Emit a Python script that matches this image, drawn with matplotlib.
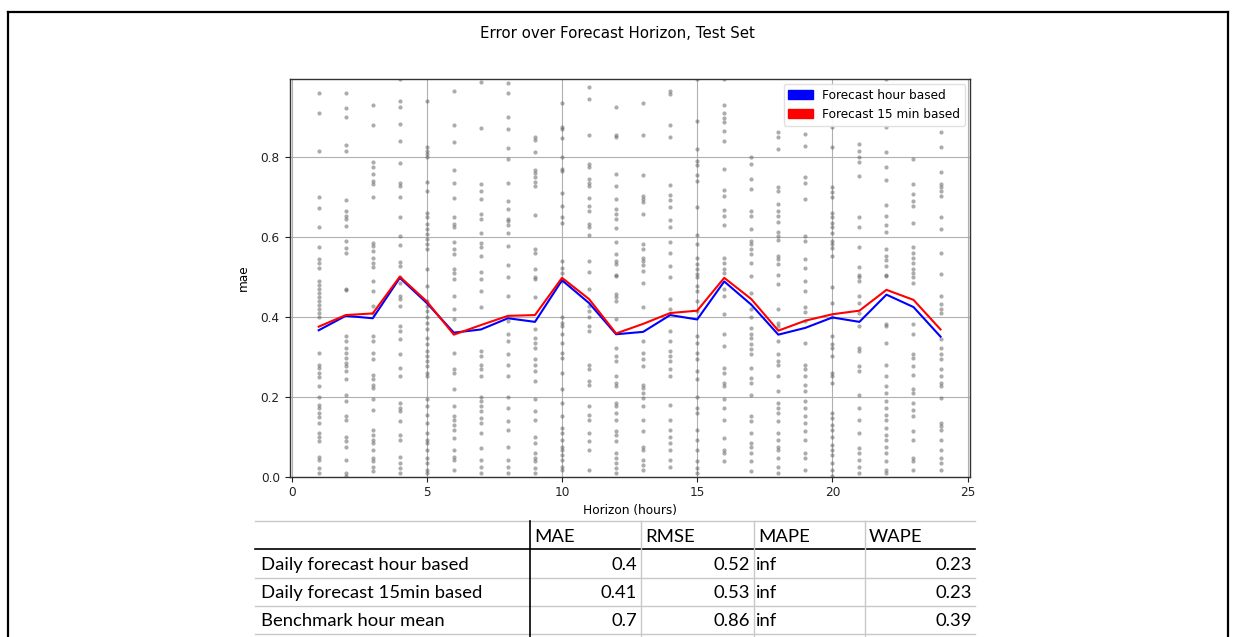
import matplotlib
matplotlib.use("Agg")
import matplotlib.pyplot as plt
from matplotlib.patches import Patch
from matplotlib.lines import Line2D

# ---------------- data ----------------
hours = list(range(1, 25))
mae_hour_based = [0.366, 0.402, 0.396, 0.497, 0.434, 0.360, 0.368, 0.396, 0.387, 0.491,
                  0.434, 0.356, 0.362, 0.404, 0.393, 0.488, 0.430, 0.355, 0.372, 0.398,
                  0.387, 0.455, 0.424, 0.350]
mae_15min_based = [0.375, 0.404, 0.408, 0.500, 0.438, 0.355, 0.379, 0.402, 0.404, 0.497,
                   0.444, 0.358, 0.382, 0.409, 0.415, 0.497, 0.444, 0.365, 0.390, 0.406,
                   0.415, 0.467, 0.442, 0.368]

# individual test-set errors per horizon hour
pts_h01 = [0.96, 0.91, 0.815, 0.698, 0.671, 0.623, 0.575, 0.545, 0.535, 0.522,
           0.49, 0.48, 0.47, 0.46, 0.45, 0.44, 0.43, 0.42, 0.41, 0.40,
           0.31, 0.28, 0.272, 0.26, 0.25, 0.226, 0.20, 0.18, 0.172, 0.159, 0.15,
           0.134, 0.109, 0.10, 0.088, 0.05, 0.042, 0.021, 0.008]
pts_h02 = [0.96, 0.922, 0.898, 0.83, 0.815, 0.692, 0.663, 0.652, 0.644, 0.627, 0.588,
           0.572, 0.558, 0.466, 0.468, 0.352, 0.34, 0.322, 0.31, 0.297, 0.285, 0.276,
           0.264, 0.243, 0.205, 0.188, 0.151, 0.142, 0.10, 0.088, 0.075, 0.042,
           0.008, 0.002]
pts_h03 = [0.929, 0.879, 0.787, 0.773, 0.756, 0.74, 0.731, 0.70, 0.585, 0.577, 0.564,
           0.547, 0.535, 0.524, 0.49, 0.464, 0.427, 0.41, 0.352, 0.34, 0.31, 0.293,
           0.255, 0.243, 0.23, 0.222, 0.193, 0.167, 0.117, 0.105, 0.092, 0.084,
           0.067, 0.046, 0.038, 0.025, 0.013]
pts_h04 = [0.993, 0.938, 0.925, 0.882, 0.84, 0.784, 0.735, 0.727, 0.698, 0.648, 0.602,
           0.579, 0.537, 0.527, 0.498, 0.485, 0.452, 0.443, 0.427, 0.377, 0.364,
           0.343, 0.306, 0.272, 0.251, 0.184, 0.172, 0.163, 0.138, 0.105, 0.092,
           0.05, 0.034, 0.021, 0.008]
pts_h05 = [0.94, 0.823, 0.815, 0.806, 0.798, 0.737, 0.715, 0.66, 0.648, 0.631, 0.618,
           0.606, 0.593, 0.581, 0.57, 0.52, 0.477, 0.439, 0.427, 0.414, 0.40, 0.385,
           0.368, 0.347, 0.331, 0.314, 0.301, 0.289, 0.276, 0.26, 0.251, 0.193,
           0.176, 0.155, 0.134, 0.109, 0.092, 0.084, 0.067, 0.046, 0.034, 0.017, 0.008]
pts_h06 = [0.965, 0.879, 0.837, 0.767, 0.733, 0.696, 0.648, 0.631, 0.623, 0.587, 0.568,
           0.556, 0.518, 0.51, 0.494, 0.452, 0.418, 0.393, 0.31, 0.268, 0.26, 0.218,
           0.176, 0.151, 0.142, 0.13, 0.117, 0.097, 0.067, 0.05, 0.042, 0.017]
pts_h07 = [0.986, 0.871, 0.731, 0.715, 0.694, 0.656, 0.644, 0.61, 0.585, 0.575, 0.552,
           0.512, 0.494, 0.464, 0.423, 0.314, 0.301, 0.28, 0.268, 0.251, 0.20, 0.188,
           0.176, 0.163, 0.147, 0.134, 0.109, 0.071, 0.042, 0.025, 0.008]
pts_h08 = [0.985, 0.96, 0.898, 0.868, 0.822, 0.794, 0.733, 0.69, 0.669, 0.645, 0.638,
           0.629, 0.608, 0.577, 0.529, 0.498, 0.452, 0.39, 0.356, 0.34, 0.306, 0.28,
           0.251, 0.20, 0.172, 0.138, 0.117, 0.075, 0.042, 0.025, 0.008]
pts_h09 = [0.848, 0.842, 0.812, 0.766, 0.758, 0.748, 0.737, 0.727, 0.654, 0.568, 0.56,
           0.52, 0.50, 0.494, 0.448, 0.368, 0.347, 0.334, 0.322, 0.293, 0.28, 0.264,
           0.239, 0.193, 0.163, 0.142, 0.10, 0.084, 0.059, 0.046, 0.038, 0.021, 0.008]
pts_h10 = [0.935, 0.874, 0.868, 0.847, 0.798, 0.769, 0.765, 0.709, 0.677, 0.648, 0.635,
           0.539, 0.522, 0.51, 0.49, 0.40, 0.385, 0.377, 0.356, 0.334, 0.31, 0.297,
           0.26, 0.218, 0.184, 0.151, 0.122, 0.109, 0.092, 0.075, 0.067, 0.055,
           0.042, 0.025, 0.017]
pts_h11 = [0.974, 0.943, 0.855, 0.782, 0.773, 0.744, 0.735, 0.727, 0.696, 0.677, 0.664,
           0.631, 0.623, 0.603, 0.54, 0.511, 0.468, 0.427, 0.414, 0.40, 0.377, 0.364,
           0.28, 0.268, 0.239, 0.23, 0.176, 0.155, 0.142, 0.109, 0.088, 0.067, 0.017]
pts_h12 = [0.925, 0.855, 0.848, 0.756, 0.727, 0.694, 0.669, 0.656, 0.645, 0.621, 0.587,
           0.556, 0.539, 0.531, 0.503, 0.502, 0.456, 0.448, 0.439, 0.393, 0.322,
           0.301, 0.289, 0.251, 0.234, 0.226, 0.184, 0.176, 0.159, 0.142, 0.113,
           0.105, 0.088, 0.059, 0.046, 0.034, 0.021, 0.008]
pts_h13 = [0.935, 0.855, 0.754, 0.702, 0.695, 0.687, 0.656, 0.581, 0.568, 0.547, 0.539,
           0.528, 0.514, 0.485, 0.423, 0.34, 0.31, 0.293, 0.276, 0.23, 0.222, 0.209,
           0.197, 0.176, 0.142, 0.113, 0.075, 0.067, 0.042, 0.03, 0.017]
pts_h14 = [0.965, 0.957, 0.879, 0.85, 0.729, 0.705, 0.692, 0.675, 0.642, 0.625, 0.587,
           0.558, 0.527, 0.498, 0.443, 0.418, 0.364, 0.34, 0.314, 0.301, 0.289, 0.268,
           0.251, 0.18, 0.142, 0.117, 0.10, 0.084, 0.067, 0.042, 0.025]
pts_h15 = [0.993, 0.888, 0.819, 0.79, 0.779, 0.754, 0.739, 0.673, 0.604, 0.581, 0.547,
           0.531, 0.518, 0.506, 0.498, 0.477, 0.464, 0.439, 0.414, 0.352, 0.334, 0.31,
           0.293, 0.264, 0.243, 0.20, 0.172, 0.159, 0.117, 0.092, 0.067, 0.038,
           0.021, 0.008]
pts_h16 = [0.995, 0.928, 0.909, 0.896, 0.886, 0.865, 0.84, 0.769, 0.717, 0.702, 0.667,
           0.652, 0.629, 0.547, 0.535, 0.52, 0.508, 0.468, 0.452, 0.406, 0.356, 0.327,
           0.272, 0.26, 0.234, 0.226, 0.193, 0.172, 0.142, 0.097, 0.067, 0.059, 0.038]
pts_h17 = [0.798, 0.782, 0.744, 0.719, 0.664, 0.652, 0.618, 0.59, 0.581, 0.568, 0.556,
           0.535, 0.502, 0.46, 0.418, 0.398, 0.372, 0.356, 0.347, 0.331, 0.318, 0.306,
           0.272, 0.247, 0.234, 0.205, 0.151, 0.138, 0.109, 0.084, 0.075, 0.059,
           0.038, 0.013]
pts_h18 = [0.861, 0.848, 0.819, 0.723, 0.715, 0.681, 0.664, 0.652, 0.637, 0.612, 0.602,
           0.591, 0.552, 0.545, 0.531, 0.503, 0.481, 0.418, 0.385, 0.377, 0.34, 0.306,
           0.289, 0.28, 0.251, 0.214, 0.184, 0.172, 0.159, 0.138, 0.109, 0.092,
           0.075, 0.067, 0.046, 0.025, 0.008]
pts_h19 = [0.857, 0.827, 0.75, 0.734, 0.694, 0.602, 0.588, 0.545, 0.522, 0.49, 0.464,
           0.423, 0.412, 0.389, 0.334, 0.28, 0.268, 0.251, 0.23, 0.214, 0.188, 0.172,
           0.151, 0.134, 0.113, 0.092, 0.059, 0.046, 0.017]
pts_h20 = [0.998, 0.874, 0.823, 0.723, 0.711, 0.698, 0.66, 0.648, 0.635, 0.623, 0.61,
           0.59, 0.581, 0.572, 0.552, 0.473, 0.435, 0.398, 0.352, 0.331, 0.322, 0.301,
           0.26, 0.251, 0.234, 0.159, 0.147, 0.13, 0.117, 0.10, 0.08, 0.067, 0.055,
           0.034, 0.017, 0.002]
pts_h21 = [0.832, 0.815, 0.798, 0.786, 0.752, 0.648, 0.623, 0.575, 0.525, 0.503, 0.498,
           0.49, 0.452, 0.435, 0.41, 0.377, 0.322, 0.314, 0.276, 0.264, 0.205, 0.172,
           0.142, 0.109, 0.071, 0.059, 0.042, 0.025, 0.008]
pts_h22 = [0.993, 0.874, 0.812, 0.773, 0.742, 0.679, 0.652, 0.629, 0.612, 0.568, 0.552,
           0.541, 0.527, 0.503, 0.502, 0.381, 0.377, 0.334, 0.28, 0.251, 0.226, 0.209,
           0.188, 0.172, 0.155, 0.142, 0.122, 0.105, 0.092, 0.075, 0.059, 0.038,
           0.017, 0.008]
pts_h23 = [0.794, 0.731, 0.706, 0.69, 0.677, 0.635, 0.575, 0.56, 0.547, 0.535, 0.518,
           0.51, 0.498, 0.485, 0.381, 0.356, 0.306, 0.297, 0.276, 0.255, 0.218, 0.209,
           0.184, 0.167, 0.151, 0.113, 0.092, 0.046, 0.038, 0.017]
pts_h24 = [0.861, 0.825, 0.761, 0.731, 0.723, 0.715, 0.702, 0.648, 0.618, 0.56, 0.506,
           0.452, 0.431, 0.418, 0.41, 0.343, 0.322, 0.306, 0.293, 0.268, 0.251, 0.234,
           0.226, 0.197, 0.134, 0.126, 0.117, 0.092, 0.067, 0.046, 0.034, 0.017]

point_lists = [pts_h01, pts_h02, pts_h03, pts_h04, pts_h05, pts_h06, pts_h07, pts_h08,
               pts_h09, pts_h10, pts_h11, pts_h12, pts_h13, pts_h14, pts_h15, pts_h16,
               pts_h17, pts_h18, pts_h19, pts_h20, pts_h21, pts_h22, pts_h23, pts_h24]

x_ticks = [0, 5, 10, 15, 20, 25]
y_ticks = [0.0, 0.2, 0.4, 0.6, 0.8]

# summary table
table_columns = ["MAE", "RMSE", "MAPE", "WAPE"]
table_rows = ["Daily forecast hour based", "Daily forecast 15min based", "Benchmark hour mean"]
col_mae = ["0.4", "0.41", "0.7"]
col_rmse = ["0.52", "0.53", "0.86"]
col_mape = ["inf", "inf", "inf"]
col_wape = ["0.23", "0.23", "0.39"]

# ---------------- figure ----------------
W, H = 1235, 637
fig = plt.figure(figsize=(W / 100, H / 100), dpi=100)
fig.patch.set_facecolor("white")

def fx(x):
    return x / W

def fy(y):
    return 1 - y / H

# outer black frame (open at the bottom)
for (xa, ya, xb, yb) in [(8, 12, 1228, 12), (8, 12, 8, 640), (1228, 12, 1228, 640)]:
    fig.add_artist(Line2D([fx(xa), fx(xb)], [fy(ya), fy(yb)], color="black", lw=1.6,
                          transform=fig.transFigure))

fs = 8.7
ax = fig.add_axes([fx(289.5), fy(476.7), fx(970) - fx(289.5), fy(79) - fy(476.7)])

xs, ys = [], []
for h, vals in zip(hours, point_lists):
    xs.extend([h] * len(vals))
    ys.extend(vals)
ax.scatter(xs, ys, s=9, color="#5a5a5a", alpha=0.5, linewidths=0, zorder=2)

ax.plot(hours, mae_hour_based, color="blue", lw=1.5, zorder=3)
ax.plot(hours, mae_15min_based, color="red", lw=1.5, zorder=4)

ax.set_xlim(-0.08, 25.09)
ax.set_ylim(0, 0.994)
ax.set_xticks(x_ticks)
ax.set_yticks(y_ticks)
ax.set_yticklabels([f"{v:.1f}" for v in y_ticks])
ax.tick_params(labelsize=fs, length=3.5, width=0.8, colors="#222222")
ax.grid(True, color="#b0b0b0", lw=0.8, zorder=0)
ax.set_axisbelow(True)
for sp in ax.spines.values():
    sp.set_color("#333333")
    sp.set_linewidth(1.0)
ax.set_xlabel("Horizon (hours)", fontsize=fs, labelpad=3)
ax.set_ylabel("mae", fontsize=fs, labelpad=8)

handles = [Patch(color="blue", label="Forecast hour based"),
           Patch(color="red", label="Forecast 15 min based")]
ax.legend(handles=handles, loc="upper right", fontsize=fs, framealpha=0.9,
          edgecolor="#dddddd", borderaxespad=0.4)

fig.suptitle("Error over Forecast Horizon, Test Set", fontsize=10.8, y=fy(33), va="center")

# ---------------- table ----------------
tfont = ["Lato", "DejaVu Sans"]
tfs = 13.3
light = "#c8c8c8"
x_left, x_right = 255, 975
col_edges = [530, 641, 754, 865]
row_lines = [521, 549, 578, 606, 634]

for i, yl in enumerate(row_lines):
    color = "black" if i == 1 else light
    lw = 1.2 if i == 1 else 1.0
    fig.add_artist(Line2D([fx(x_left), fx(x_right)], [fy(yl), fy(yl)], color=color, lw=lw,
                          transform=fig.transFigure))
for j, xe in enumerate(col_edges):
    color = "black" if j == 0 else light
    lw = 1.2 if j == 0 else 1.0
    fig.add_artist(Line2D([fx(xe), fx(xe)], [fy(521), fy(640)], color=color, lw=lw,
                          transform=fig.transFigure))

header_y = 537
row_y = [565, 593, 621]
for j, name in enumerate(table_columns):
    fig.text(fx(col_edges[j] + 4), fy(header_y), name, family=tfont, fontsize=tfs,
             ha="left", va="center")
for i, name in enumerate(table_rows):
    fig.text(fx(261), fy(row_y[i]), name, family=tfont, fontsize=tfs, ha="left", va="center")
    fig.text(fx(637), fy(row_y[i]), col_mae[i], family=tfont, fontsize=tfs, ha="right", va="center")
    fig.text(fx(750), fy(row_y[i]), col_rmse[i], family=tfont, fontsize=tfs, ha="right", va="center")
    fig.text(fx(756), fy(row_y[i]), col_mape[i], family=tfont, fontsize=tfs, ha="left", va="center")
    fig.text(fx(972), fy(row_y[i]), col_wape[i], family=tfont, fontsize=tfs, ha="right", va="center")

fig.savefig("out.png", dpi=100, facecolor="white")
